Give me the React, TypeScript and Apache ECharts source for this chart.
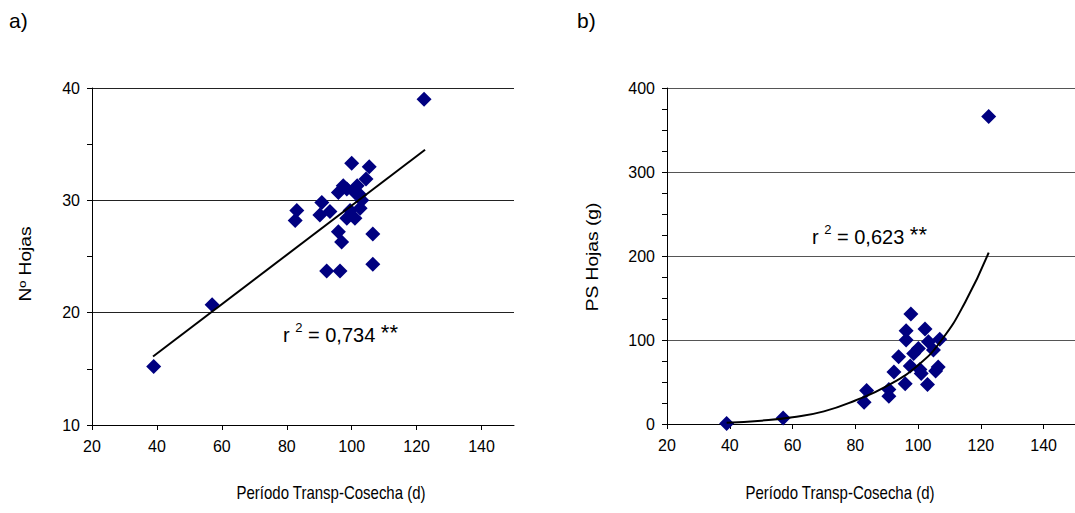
import React, { useEffect, useRef } from "react";
import * as echarts from "echarts";

const xTickValues = [20, 40, 60, 80, 100, 120, 140];

// Panel a) Nº Hojas
const aX = [39, 57, 122.3, 100, 105.4, 104.4, 97.4, 95.9, 101.7, 101, 103.1, 90.8, 83.1, 82.6, 90.2, 93.3, 99.5, 102.6, 98.5, 101, 95.9, 96.9, 106.5, 106.5, 92.3, 96.4, 98.5, 102.5];
const aY = [15.2, 20.7, 39, 33.3, 33.0, 31.9, 31.3, 30.7, 31.3, 30.7, 30.0, 29.8, 29.1, 28.2, 28.7, 29.0, 29.1, 29.3, 28.4, 28.4, 27.2, 26.3, 27.0, 24.3, 23.7, 23.7, 31.0, 30.5];
const aTrendX = [38.8, 122.6];
const aTrendY = [16.1, 34.5];

// Panel b) PS Hojas (g)
const bX = [39, 57, 122.5, 97.7, 96.2, 102.2, 96.2, 103.3, 106.9, 104.9, 100.1, 98.6, 93.8, 97.5, 100.6, 101, 106.4, 105.6, 92.3, 95.9, 103, 83.6, 82.8, 90.7, 90.7];
const bY = [0.5, 7, 366, 131, 111, 113, 100, 98, 101, 88, 90, 84, 80, 69, 65, 60, 68, 63, 62, 48, 47, 40, 26, 41, 33];
const bCurveX = [39, 50, 60, 70, 80, 90, 100, 107.5, 115, 122.5];
const bCurveY = [1.5, 4, 8, 15, 28, 45, 70, 100, 145, 204];

const FONT = "Liberation Sans, Arial, sans-serif";

const zip = (xs: number[], ys: number[]) => xs.map((x, i) => [x, ys[i]]);

export default function App() {
  const ref = useRef<HTMLDivElement>(null);
  useEffect(() => {
    if (!ref.current) return;
    const chart = echarts.init(ref.current, null, { renderer: "svg" });
    const xAxisBase = (gridIndex: number) => ({
      type: "value",
      gridIndex,
      min: 20,
      max: 150,
      interval: 20,
      axisLine: { show: true, onZero: false, lineStyle: { color: "#000", width: 1 } },
      axisTick: { show: true, length: 5, lineStyle: { color: "#000" }, customValues: xTickValues },
      axisLabel: { color: "#000", fontSize: 16, fontFamily: FONT, margin: 13, customValues: xTickValues },
      splitLine: { show: false },
    });
    const yLabel = { color: "#000", fontSize: 16, fontFamily: FONT, margin: 12 };
    const richR = {
      b: { fontSize: 20, fontFamily: FONT, color: "#000" },
      s: { fontSize: 13, fontFamily: FONT, color: "#000", verticalAlign: "top", padding: [0, 0, 12, 0] },
      st: { fontSize: 22, fontFamily: FONT, color: "#000", padding: [0, 0, 6, 0] },
    };
    const scatterStyle = { color: "#000080", opacity: 1 };
    chart.setOption({
      animation: false,
      backgroundColor: "#fff",
      grid: [
        { left: 92, top: 88, width: 422, height: 337 },
        { left: 667, top: 88, width: 413, height: 336 },
      ],
      xAxis: [xAxisBase(0), xAxisBase(1)],
      yAxis: [
        {
          type: "value",
          gridIndex: 0,
          min: 10,
          max: 40,
          interval: 10,
          axisLine: { show: true, lineStyle: { color: "#000" } },
          axisTick: { show: true, length: 5, lineStyle: { color: "#000" } },
          minorTick: { show: true, splitNumber: 2, length: 5, lineStyle: { color: "#000" } },
          axisLabel: yLabel,
          splitLine: { show: true, lineStyle: { color: "#222", width: 1 } },
        },
        {
          type: "value",
          gridIndex: 1,
          min: 0,
          max: 400,
          interval: 100,
          axisLine: { show: true, lineStyle: { color: "#000" } },
          axisTick: { show: true, length: 5, lineStyle: { color: "#000" } },
          minorTick: { show: true, splitNumber: 4, length: 5, lineStyle: { color: "#000" } },
          axisLabel: yLabel,
          splitLine: { show: true, lineStyle: { color: "#555", width: 1 } },
        },
      ],
      series: [
        {
          type: "line",
          xAxisIndex: 0,
          yAxisIndex: 0,
          data: zip(aTrendX, aTrendY),
          showSymbol: false,
          lineStyle: { color: "#000", width: 2 },
          z: 3,
        },
        {
          type: "scatter",
          xAxisIndex: 0,
          yAxisIndex: 0,
          data: zip(aX, aY),
          symbol: "diamond",
          symbolSize: 15,
          itemStyle: scatterStyle,
          z: 2,
        },
        {
          type: "line",
          xAxisIndex: 1,
          yAxisIndex: 1,
          data: zip(bCurveX, bCurveY),
          showSymbol: false,
          smooth: true,
          lineStyle: { color: "#000", width: 2 },
          z: 3,
        },
        {
          type: "scatter",
          xAxisIndex: 1,
          yAxisIndex: 1,
          data: zip(bX, bY),
          symbol: "diamond",
          symbolSize: 15,
          itemStyle: scatterStyle,
          z: 2,
        },
      ],
      graphic: [
        { type: "text", left: 9, top: 10, style: { text: "a)", font: `21px ${FONT}`, fill: "#000" } },
        { type: "text", left: 577, top: 10, style: { text: "b)", font: `21px ${FONT}`, fill: "#000" } },
        {
          type: "text",
          x: 26,
          y: 264,
          rotation: Math.PI / 2,
          scaleX: 1.2,
          style: { text: "Nº Hojas", font: `16px ${FONT}`, fill: "#000", align: "center", verticalAlign: "middle" },
        },
        {
          type: "text",
          x: 593,
          y: 257,
          rotation: Math.PI / 2,
          scaleX: 1.2,
          style: { text: "PS Hojas (g)", font: `16px ${FONT}`, fill: "#000", align: "center", verticalAlign: "middle" },
        },
        {
          type: "text",
          x: 331,
          y: 493,
          scaleY: 1.2,
          style: { text: "Período Transp-Cosecha (d)", font: `15px ${FONT}`, fill: "#000", align: "center", verticalAlign: "middle" },
        },
        {
          type: "text",
          x: 840,
          y: 493,
          scaleY: 1.2,
          style: { text: "Período Transp-Cosecha (d)", font: `15px ${FONT}`, fill: "#000", align: "center", verticalAlign: "middle" },
        },
        {
          type: "text",
          x: 283,
          y: 335,
          style: {
            text: "{b|r }{s|2}{b| = 0,734 }{st|**}",
            rich: richR,
            verticalAlign: "middle",
          },
        },
        {
          type: "text",
          x: 812,
          y: 237,
          style: {
            text: "{b|r }{s|2}{b| = 0,623 }{st|**}",
            rich: richR,
            verticalAlign: "middle",
          },
        },
      ],
    });
    return () => chart.dispose();
  }, []);
  return (
    <div
      ref={ref}
      style={{ position: "fixed", left: 0, top: 0, width: 1075, height: 513, background: "#fff" }}
    />
  );
}
